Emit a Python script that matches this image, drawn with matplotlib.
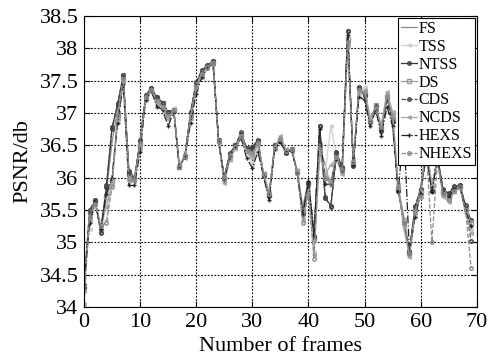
import matplotlib
matplotlib.use("Agg")
import matplotlib.pyplot as plt
from matplotlib.ticker import FuncFormatter

plt.rcParams['font.family'] = ['Liberation Serif', 'DejaVu Serif']

frames = list(range(70))

FS = [34.28, 35.40, 35.62, 35.22, 35.80, 36.55, 37.05, 37.56, 36.12, 36.00, 36.55, 37.25, 37.36, 37.20, 37.12, 37.00, 37.06, 36.18, 36.35, 36.98,
      37.42, 37.62, 37.72, 37.78, 36.56, 36.02, 36.36, 36.48, 36.64, 36.42, 36.40, 36.55, 36.06, 35.75, 36.48, 36.60, 36.42, 36.44, 36.10, 35.55,
      35.95, 35.15, 36.45, 36.20, 35.85, 36.30, 36.10, 38.20, 36.25, 37.35, 37.30, 36.90, 37.10, 36.80, 37.28, 36.95, 35.85, 35.40, 34.88, 35.50,
      35.85, 36.45, 35.85, 36.30, 35.75, 35.72, 35.85, 35.88, 35.55, 35.30]
TSS = [34.45, 35.20, 35.60, 35.30, 35.35, 35.95, 36.95, 37.55, 36.00, 35.95, 36.50, 37.20, 37.35, 37.15, 37.10, 36.95, 37.08, 36.20, 36.32, 36.90,
       37.35, 37.58, 37.70, 37.75, 36.55, 35.95, 36.30, 36.45, 36.62, 36.40, 36.20, 36.50, 36.08, 35.78, 36.45, 36.62, 36.45, 36.40, 36.12, 35.40,
       35.85, 34.85, 36.30, 36.10, 36.80, 36.35, 36.05, 38.10, 36.30, 37.30, 37.40, 36.95, 37.05, 36.85, 37.30, 37.00, 35.90, 35.20, 34.80, 35.40,
       35.75, 36.50, 35.90, 36.25, 35.70, 35.65, 35.80, 35.85, 35.50, 35.20]
NTSS = [34.30, 35.45, 35.65, 35.16, 35.85, 36.78, 37.12, 37.58, 36.10, 35.98, 36.57, 37.27, 37.38, 37.24, 37.16, 37.01, 37.05, 36.16, 36.34, 37.01,
        37.47, 37.65, 37.73, 37.80, 36.58, 36.00, 36.37, 36.50, 36.68, 36.45, 36.45, 36.57, 36.04, 35.73, 36.50, 36.57, 36.39, 36.45, 36.09, 35.47,
        35.91, 35.09, 36.80, 35.68, 35.57, 36.39, 36.16, 38.27, 36.19, 37.39, 37.27, 36.86, 37.11, 36.73, 37.24, 36.88, 35.81, 35.30, 34.86, 35.55,
        35.81, 36.37, 35.80, 36.32, 35.81, 35.75, 35.86, 35.88, 35.57, 35.34]
DS = [34.32, 35.48, 35.64, 35.18, 35.70, 35.95, 37.00, 37.55, 36.05, 35.98, 36.52, 37.25, 37.36, 37.22, 37.15, 37.00, 37.05, 36.16, 36.34, 36.98,
      37.45, 37.64, 37.72, 37.79, 36.57, 36.00, 36.35, 36.50, 36.66, 36.44, 36.35, 36.56, 36.05, 35.74, 36.50, 36.58, 36.40, 36.44, 36.10, 35.50,
      35.90, 35.05, 36.50, 36.00, 35.95, 36.35, 36.12, 38.15, 36.22, 37.38, 37.30, 36.88, 37.12, 36.75, 37.25, 36.90, 35.82, 35.35, 34.84, 35.52,
      35.80, 36.40, 35.82, 36.30, 35.78, 35.70, 35.85, 35.86, 35.55, 35.30]
CDS = [34.30, 35.50, 35.66, 35.15, 35.88, 36.75, 37.15, 37.58, 36.08, 35.97, 36.58, 37.28, 37.38, 37.25, 37.16, 37.02, 37.05, 36.16, 36.34, 37.02,
       37.48, 37.66, 37.74, 37.81, 36.58, 36.00, 36.38, 36.50, 36.70, 36.46, 36.48, 36.58, 36.03, 35.72, 36.50, 36.56, 36.38, 36.45, 36.08, 35.45,
       35.92, 35.08, 36.80, 35.70, 35.55, 36.38, 36.15, 38.27, 36.18, 37.40, 37.28, 36.86, 37.10, 36.72, 37.22, 36.86, 35.80, 35.30, 34.86, 35.56,
       35.82, 36.38, 35.80, 36.33, 35.82, 35.76, 35.87, 35.88, 35.58, 35.02]
NCDS = [34.25, 35.35, 35.60, 35.25, 35.55, 35.90, 36.90, 37.50, 35.95, 35.95, 36.45, 37.22, 37.34, 37.12, 37.08, 36.90, 37.04, 36.18, 36.30, 36.92,
        37.38, 37.55, 37.70, 37.76, 36.55, 35.92, 36.28, 36.46, 36.60, 36.40, 36.30, 36.52, 36.06, 35.76, 36.46, 36.64, 36.44, 36.42, 36.10, 35.35,
        35.80, 34.80, 36.40, 36.05, 36.20, 36.30, 36.05, 38.05, 36.28, 37.32, 37.35, 36.92, 37.06, 36.80, 37.32, 37.02, 35.88, 35.25, 34.78, 35.45,
        35.78, 36.55, 35.88, 36.28, 35.72, 35.62, 35.78, 35.84, 35.45, 35.15]
HEXS = [34.35, 35.30, 35.62, 35.20, 35.75, 36.00, 36.85, 37.45, 35.88, 35.88, 36.40, 37.20, 37.34, 37.10, 37.05, 36.80, 37.02, 36.16, 36.32, 36.85,
        37.30, 37.55, 37.70, 37.76, 36.55, 35.96, 36.32, 36.48, 36.62, 36.30, 36.15, 36.40, 36.02, 35.65, 36.45, 36.55, 36.40, 36.42, 36.08, 35.42,
        35.95, 35.12, 36.75, 35.90, 35.90, 36.30, 36.10, 38.20, 36.20, 37.25, 37.20, 36.80, 37.05, 36.65, 37.10, 36.80, 35.78, 36.78, 34.84, 35.40,
        35.75, 36.35, 35.78, 36.30, 35.76, 35.70, 35.82, 35.86, 35.50, 35.25]
NHEXS = [34.05, 35.40, 35.60, 35.25, 35.30, 35.85, 36.95, 37.52, 35.98, 35.96, 36.50, 37.24, 37.35, 37.18, 37.10, 36.95, 37.04, 36.17, 36.33, 36.95,
         37.40, 37.60, 37.71, 37.78, 36.56, 35.98, 36.34, 36.48, 36.65, 36.42, 36.38, 36.54, 36.05, 35.75, 36.48, 36.60, 36.42, 36.44, 36.08, 35.30,
         35.75, 34.75, 36.45, 36.00, 35.90, 36.32, 36.10, 38.10, 36.25, 37.35, 37.32, 36.88, 37.08, 36.78, 37.26, 36.95, 35.85, 35.30, 34.82, 35.48,
         35.70, 36.50, 35.00, 36.25, 35.75, 35.65, 35.80, 35.85, 35.50, 34.60]

series = [
    ("FS", FS, "#8a8a8a", "-", None),
    ("TSS", TSS, "#cfcfcf", "-", "<"),
    ("NTSS", NTSS, "#3a3a3a", "-", "o"),
    ("DS", DS, "#9a9a9a", "-", "s"),
    ("CDS", CDS, "#444444", "--", "o"),
    ("NCDS", NCDS, "#a8a8a8", "-", "<"),
    ("HEXS", HEXS, "#222222", "-.", "+"),
    ("NHEXS", NHEXS, "#8c8c8c", "--", "o"),
]

fig = plt.figure(figsize=(4.91, 3.63), dpi=100)
ax = fig.add_axes([0.171, 0.154, 0.8, 0.802])

for name, vals, col, ls, mk in series:
    ax.plot(frames, vals, color=col, linestyle=ls, marker=mk, markersize=2.5,
            markerfacecolor="none" if mk in ("o", "s") else col,
            linewidth=0.9, label=name)

ax.set_xlim(0, 70)
ax.set_ylim(34, 38.5)
ax.set_xticks(range(0, 71, 10))
ax.set_yticks([34, 34.5, 35, 35.5, 36, 36.5, 37, 37.5, 38, 38.5])
ax.yaxis.set_major_formatter(FuncFormatter(lambda v, p: "%g" % v))
ax.grid(True, color="black", linestyle=(0, (1.5, 1.5)), linewidth=0.8)
ax.tick_params(direction="in", top=True, right=True, labelsize=16, length=4)
ax.tick_params(axis="x", pad=4)
ax.tick_params(axis="y", pad=4)
for s in ax.spines.values():
    s.set_linewidth(0.8)

ax.set_xlabel("Number of frames", fontsize=16, labelpad=4)
ax.set_ylabel("PSNR/db", fontsize=16, labelpad=5)

leg = ax.legend(loc="upper right", fontsize=11.5, fancybox=False, edgecolor="black",
                framealpha=1, borderpad=0.2, labelspacing=0.12, handlelength=1.0,
                handletextpad=0.1, borderaxespad=0.1)
leg.get_frame().set_linewidth(0.8)

plt.savefig("out.png", dpi=100)
